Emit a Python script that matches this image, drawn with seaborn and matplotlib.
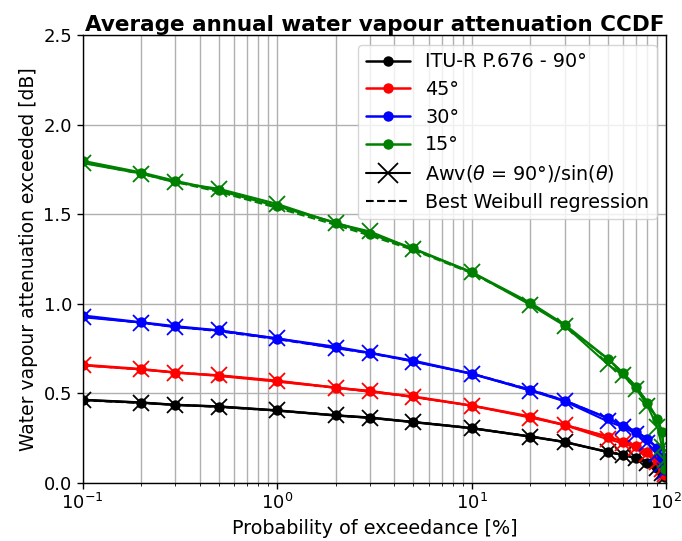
import numpy as np
import pandas as pd
import matplotlib
matplotlib.use("Agg")
import matplotlib.pyplot as plt
from matplotlib.lines import Line2D
from matplotlib.ticker import LogLocator, NullFormatter
import seaborn as sns

# Data
prob = [0.1, 0.2, 0.3, 0.5, 1, 2, 3, 5, 10, 20, 30, 50, 60, 70, 80, 90, 95, 99]
att_90 = [0.462, 0.447, 0.434, 0.425, 0.403, 0.375, 0.363, 0.338, 0.304, 0.257, 0.227,
          0.171, 0.155, 0.136, 0.111, 0.080, 0.052, 0.033]
att_45 = [0.658, 0.634, 0.615, 0.597, 0.565, 0.531, 0.509, 0.481, 0.430, 0.369, 0.322,
          0.257, 0.229, 0.205, 0.173, 0.127, 0.089, 0.043]
att_30 = [0.933, 0.895, 0.873, 0.850, 0.804, 0.758, 0.724, 0.681, 0.608, 0.517, 0.458,
          0.360, 0.317, 0.285, 0.244, 0.192, 0.145, 0.070]
att_15 = [1.797, 1.732, 1.685, 1.633, 1.545, 1.452, 1.390, 1.308, 1.175, 1.004, 0.882,
          0.692, 0.612, 0.534, 0.447, 0.354, 0.285, 0.075]
# Awv(90)/sin(theta) scaled series (overlapping the dots)
scaled_90 = [0.462, 0.447, 0.434, 0.425, 0.403, 0.375, 0.363, 0.338, 0.304, 0.257, 0.227,
             0.171, 0.155, 0.136, 0.111, 0.080, 0.052, 0.033]
scaled_45 = [0.655, 0.632, 0.614, 0.600, 0.570, 0.530, 0.513, 0.478, 0.430, 0.363, 0.321,
             0.242, 0.219, 0.192, 0.157, 0.113, 0.074, 0.047]
scaled_30 = [0.924, 0.894, 0.868, 0.850, 0.806, 0.750, 0.726, 0.676, 0.608, 0.514, 0.454,
             0.342, 0.310, 0.272, 0.222, 0.160, 0.104, 0.066]
scaled_15 = [1.785, 1.727, 1.677, 1.642, 1.557, 1.449, 1.403, 1.306, 1.175, 0.993, 0.877,
             0.661, 0.599, 0.525, 0.429, 0.309, 0.201, 0.128]
# Best Weibull regression (dashed)
weib_90 = [0.460, 0.445, 0.435, 0.423, 0.402, 0.376, 0.361, 0.339, 0.304, 0.258, 0.226,
           0.172, 0.154, 0.135, 0.112, 0.081, 0.055, 0.030]
weib_45 = [0.655, 0.632, 0.617, 0.597, 0.566, 0.529, 0.508, 0.478, 0.430, 0.368, 0.323,
           0.256, 0.230, 0.204, 0.172, 0.128, 0.090, 0.045]
weib_30 = [0.928, 0.893, 0.871, 0.846, 0.801, 0.752, 0.722, 0.678, 0.609, 0.520, 0.459,
           0.360, 0.320, 0.285, 0.243, 0.190, 0.140, 0.070]
weib_15 = [1.790, 1.725, 1.680, 1.625, 1.535, 1.440, 1.380, 1.300, 1.170, 1.000, 0.880,
           0.690, 0.612, 0.535, 0.447, 0.350, 0.280, 0.080]

angles = ["90", "45", "30", "15"]
colors = ["black", "red", "blue", "green"]
itu_series = [att_90, att_45, att_30, att_15]
scaled_series = [scaled_90, scaled_45, scaled_30, scaled_15]
weib_series = [weib_90, weib_45, weib_30, weib_15]
legend_labels = ["ITU-R P.676 - 90°", "45°", "30°", "15°",
                 r"Awv($\theta$ = 90°)/sin($\theta$)", "Best Weibull regression"]

sns.set_style("white")
plt.rcParams["font.family"] = ["DejaVu Sans"]
plt.rcParams["text.color"] = "black"
plt.rcParams["axes.labelcolor"] = "black"
plt.rcParams["xtick.color"] = "black"
plt.rcParams["ytick.color"] = "black"

fig = plt.figure(figsize=(6.82, 5.41), dpi=100)
ax = fig.add_axes([0.121, 0.108, 0.856, 0.827])

for ang, col, itu, sc, wb in zip(angles, colors, itu_series, scaled_series, weib_series):
    df_i = pd.DataFrame({"p": prob, "a": itu})
    df_s = pd.DataFrame({"p": prob, "a": sc})
    df_w = pd.DataFrame({"p": prob, "a": wb})
    sns.lineplot(data=df_s, x="p", y="a", ax=ax, color=col, marker="x",
                 markersize=12, markeredgewidth=1.3, markeredgecolor=col,
                 markerfacecolor=col, linewidth=1.5, sort=False, estimator=None)
    sns.lineplot(data=df_i, x="p", y="a", ax=ax, color=col, marker="o",
                 markersize=7.5, markeredgewidth=0, markerfacecolor=col,
                 linewidth=1.8, sort=False, estimator=None)
    sns.lineplot(data=df_w, x="p", y="a", ax=ax, color=col, linestyle="--",
                 linewidth=1.5, sort=False, estimator=None)

ax.set_xscale("log")
ax.set_xlim(0.1, 100)
ax.set_ylim(0, 2.5)
ax.set_yticks([0.0, 0.5, 1.0, 1.5, 2.0, 2.5])
ax.xaxis.set_minor_locator(LogLocator(base=10, subs=np.arange(2, 10), numticks=20))
ax.xaxis.set_minor_formatter(NullFormatter())
ax.grid(True, which="major", axis="both", color="#b0b0b0", linewidth=1)
ax.grid(True, which="minor", axis="x", color="#b0b0b0", linewidth=1)
ax.tick_params(axis="both", which="major", labelsize=13, direction="out",
               length=4, width=1, bottom=True, left=True, colors="black")
ax.tick_params(axis="x", which="minor", direction="out", length=2, bottom=True)
for s in ax.spines.values():
    s.set_color("black")
    s.set_linewidth(1)

ax.set_xlabel("Probability of exceedance [%]", fontsize=13.8, color="black")
ax.set_ylabel("Water vapour attenuation exceeded [dB]", fontsize=13.5, color="black")
ax.set_title("Average annual water vapour attenuation CCDF", fontsize=15.5,
             fontweight="bold", pad=3, color="black")

handles = [Line2D([], [], color=c, marker="o", markersize=7.5, markeredgewidth=0,
                  linewidth=1.8) for c in colors]
handles.append(Line2D([], [], color="black", marker="x", markersize=15,
                      markeredgewidth=1.3, linewidth=1.5))
handles.append(Line2D([], [], color="black", linestyle="--", linewidth=1.5))
ax.legend(handles, legend_labels, loc="upper right", fontsize=13.8,
          framealpha=0.8, edgecolor="#cccccc", handlelength=2.3,
          borderpad=0.4, labelspacing=0.45, labelcolor="black")

fig.savefig("out.png", dpi=100)
